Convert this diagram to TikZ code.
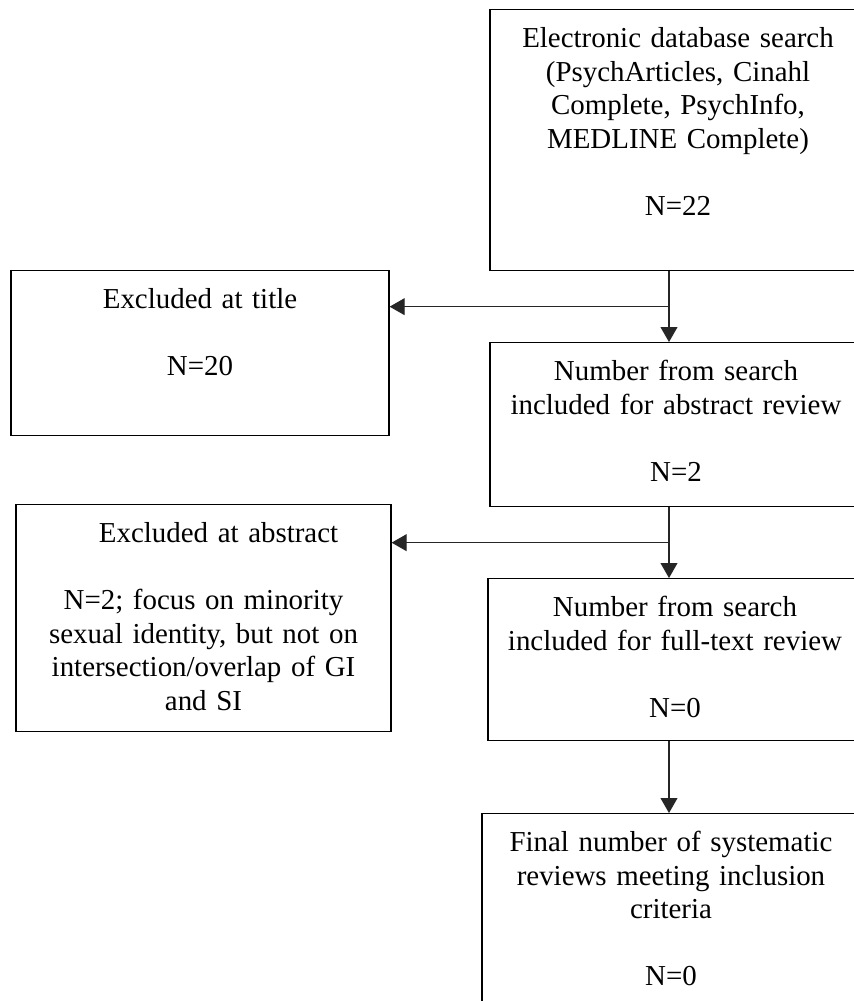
\documentclass[tikz,border=0pt]{standalone}
\usepackage{fontspec}
\setmainfont{Liberation Serif}
\usepackage{tikz}
\usetikzlibrary{calc,arrows.meta}
\newcommand{\pxu}{0.415pt}
\tikzset{
  box/.style={draw=black,line width=0.55pt,align=center,anchor=north,
              inner sep=0pt,text height=38*\pxu,
              font=\fontsize{12}{13.9}\selectfont},
  arr/.style={-{Triangle[length=6.2pt,width=7pt]},line width=0.42pt,black!85}
}

\begin{document}
\begin{tikzpicture}[x=\pxu,y=-\pxu]
  \path[use as bounding box,fill=white] (0,0) rectangle (853,1001);
  \coordinate (spine) at (669,0);
  % right column
  \node[box,text width=376*\pxu,text depth=223*\pxu] (search) at (678,9)
    {Electronic database search\\(PsychArticles, Cinahl\\Complete, PsychInfo,\\MEDLINE Complete)\\[13.9pt]N=22};
  \node[box,text width=372*\pxu,text depth=126*\pxu] (abstract) at (676,342)
    {Number from search\\included for abstract review\\[13.9pt]N=2};
  \node[box,text width=374*\pxu,text depth=124*\pxu] (fulltext) at (675,578)
    {Number from search\\included for full-text review\\[13.9pt]N=0};
  \node[box,text width=378*\pxu,text depth=200*\pxu] (final) at (671,813)
    {Final number of systematic\\reviews meeting inclusion\\criteria\\[13.9pt]N=0};
  % exclusions
  \node[box,text width=378*\pxu,text depth=127*\pxu] (title) at (200,270)
    {Excluded at title\\[13.9pt]N=20};
  \node[box,text width=375*\pxu,text depth=189*\pxu] (exclabs) at (203.5,504)
    {\hspace*{12.5pt}Excluded at abstract\\[13.9pt]N=2; focus on minority\\sexual identity, but not on\\intersection/overlap of GI\\and SI};
  % arrows
  \draw[arr] (search.south -| spine) -- coordinate (fork1) (abstract.north -| spine);
  \draw[arr] (fork1) -- (fork1 -| title.east);
  \draw[arr] (abstract.south -| spine) -- coordinate (fork2) (fulltext.north -| spine);
  \draw[arr] (fork2) -- (fork2 -| exclabs.east);
  \draw[arr] (fulltext.south -| spine) -- (final.north -| spine);
\end{tikzpicture}
\end{document}
